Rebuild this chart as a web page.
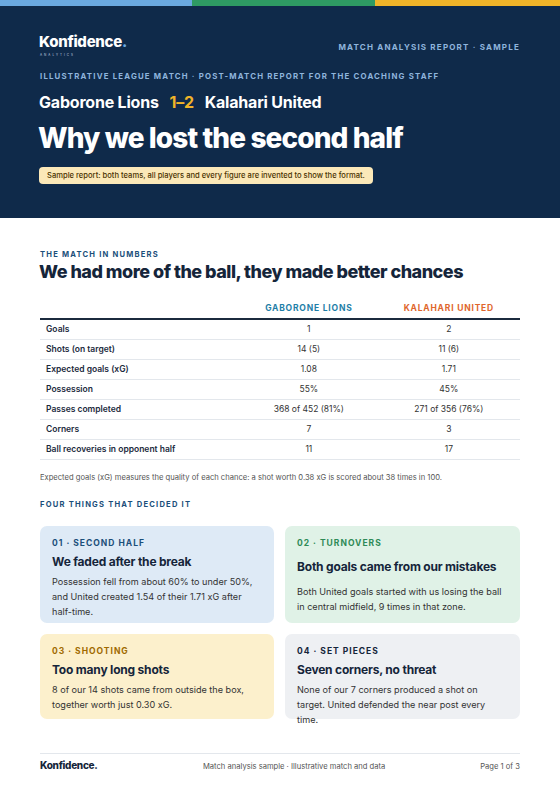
<!DOCTYPE html>
<html><head><meta charset="utf-8">
<script src="https://cdn.jsdelivr.net/npm/chart.js@4"></script>
<style>
*{box-sizing:border-box;margin:0;padding:0}
body{width:560px;height:792px;font-family:Inter,"Noto Sans",sans-serif;background:#fff;position:relative;overflow:hidden;color:#1b2a3d}
.stripe{position:absolute;top:0;height:6px}
.hdr{position:absolute;top:6px;left:0;width:560px;height:212px;background:#0f2a4a}
.abs{position:absolute}
.logo{font-weight:800;color:#fff;font-size:15px;letter-spacing:-0.3px}
.logo span{color:#6aa9e0}
.sub{font-size:3px;letter-spacing:2px;color:#c8d4e3}
.caps{font-weight:700;letter-spacing:1.2px;font-size:8px}
table{border-collapse:collapse;width:480px;font-size:8.5px}
td,th{height:20px;border-bottom:1px solid #e3e7ec}
th{font-size:8.5px;letter-spacing:0.8px;font-weight:700;border-bottom:2px solid #1b2a3d;height:22px}
td:first-child{padding-left:6px;font-weight:600;text-align:left;color:#1b2a3d}
td{text-align:center;color:#333}
.card{position:absolute;border-radius:7px;padding:12px 12px}
.card .k{font-size:8.5px;font-weight:700;letter-spacing:1px}
.card .t{font-size:12px;font-weight:700;margin-top:6px;color:#15253a;letter-spacing:-0.2px}
.card .b{font-size:9.1px;line-height:15px;margin-top:5px;color:#333}
</style></head><body>
<div class="stripe" style="left:0;width:192px;background:#6aa9e0"></div>
<div class="stripe" style="left:192px;width:183px;background:#2e9a63"></div>
<div class="stripe" style="left:375px;width:185px;background:#f0b429"></div>
<div class="hdr"></div>
<div class="abs logo" style="left:39px;top:32px">Konfidence<span>.</span></div>
<div class="abs sub" style="left:40px;top:53px">ANALYTICS</div>
<div class="abs caps" style="right:40px;top:42px;color:#8fb5dd">MATCH ANALYSIS REPORT · SAMPLE</div>
<div class="abs caps" style="left:40px;top:71px;color:#8fb5dd;font-size:7.8px">ILLUSTRATIVE LEAGUE MATCH · POST-MATCH REPORT FOR THE COACHING STAFF</div>
<div class="abs" style="left:39px;top:92px;color:#fff;font-weight:700;font-size:16px;letter-spacing:-0.2px" id="score"></div>
<div class="abs" style="left:38px;top:121px;color:#fff;font-weight:800;font-size:28px;letter-spacing:-0.9px">Why we lost the second half</div>
<div class="abs" style="left:39px;top:167px;background:#fbe8b8;color:#4a3200;border-radius:4px;padding:4px 8px;font-size:7.6px;font-weight:500">Sample report: both teams, all players and every figure are invented to show the format.</div>

<div class="abs caps" style="left:40px;top:250px;color:#1b4f7a;font-size:7.6px">THE MATCH IN NUMBERS</div>
<div class="abs" style="left:39px;top:261px;font-weight:800;font-size:18px;letter-spacing:-0.5px;color:#15253a">We had more of the ball, they made better chances</div>
<div class="abs" style="left:40px;top:297px"><table id="tbl"></table></div>
<div class="abs" style="left:40px;top:473px;font-size:7.6px;color:#555">Expected goals (xG) measures the quality of each chance: a shot worth 0.38 xG is scored about 38 times in 100.</div>
<div class="abs caps" style="left:40px;top:500px;color:#1b4f7a;font-size:7.6px">FOUR THINGS THAT DECIDED IT</div>
<div id="cards"></div>

<div class="abs" style="left:40px;top:753px;width:480px;border-top:1px solid #e3e7ec"></div>
<div class="abs logo" style="left:40px;top:759px;color:#15253a;font-size:10px">Konfidence<span style="color:#15253a">.</span></div>
<div class="abs" style="left:203px;top:762px;font-size:7.6px;color:#555">Match analysis sample · Illustrative match and data</div>
<div class="abs" style="right:40px;top:762px;font-size:7.6px;color:#555">Page 1 of 3</div>
<script>
const homeTeam = 'Gaborone Lions', awayTeam = 'Kalahari United';
const homeGoals = 1, awayGoals = 2;
const statLabels = ['Goals','Shots (on target)','Expected goals (xG)','Possession','Passes completed','Corners','Ball recoveries in opponent half'];
const homeValues = ['1','14 (5)','1.08','55%','368 of 452 (81%)','7','11'];
const awayValues = ['2','11 (6)','1.71','45%','271 of 356 (76%)','3','17'];
const cardKeys = ['01 · SECOND HALF','02 · TURNOVERS','03 · SHOOTING','04 · SET PIECES'];
const cardTitles = ['We faded after the break','Both goals came from our mistakes','Too many long shots','Seven corners, no threat'];
const cardBodies = [
  'Possession fell from about 60% to under 50%, and United created 1.54 of their 1.71 xG after half-time.',
  'Both United goals started with us losing the ball in central midfield, 9 times in that zone.',
  '8 of our 14 shots came from outside the box, together worth just 0.30 xG.',
  'None of our 7 corners produced a shot on target. United defended the near post every time.'
];

document.getElementById('score').innerHTML = homeTeam + '&nbsp;&nbsp;&nbsp;<span style="color:#f0b429">' + homeGoals + '–' + awayGoals + '</span>&nbsp;&nbsp;&nbsp;' + awayTeam;

let html = '<tr><th style="width:200px"></th><th style="color:#1f7fa8">' + homeTeam.toUpperCase() + '</th><th style="color:#e0662c">' + awayTeam.toUpperCase() + '</th></tr>';
statLabels.forEach((l, i) => {
  html += '<tr><td>' + l + '</td><td>' + homeValues[i] + '</td><td>' + awayValues[i] + '</td></tr>';
});
document.getElementById('tbl').innerHTML = html;

const boxes = [
  {x:40,y:526,w:234,h:97,bg:'#deeaf6',kc:'#1b4f7a'},
  {x:285,y:526,w:235,h:97,bg:'#e0f2e7',kc:'#2e8a57'},
  {x:40,y:634,w:234,h:85,bg:'#fcf0cc',kc:'#a06a00'},
  {x:285,y:634,w:235,h:85,bg:'#eef0f3',kc:'#15253a'}
];
let ch = '';
boxes.forEach((b, i) => {
  ch += `<div class="card" style="left:${b.x}px;top:${b.y}px;width:${b.w}px;height:${b.h}px;background:${b.bg}">
    <div class="k" style="color:${b.kc}">${cardKeys[i]}</div>
    <div class="t" ${i==1?'style="margin-top:11px;margin-bottom:10px"':''}>${cardTitles[i]}</div>
    <div class="b">${cardBodies[i]}</div></div>`;
});
document.getElementById('cards').innerHTML = ch;
</script>
</body></html>
